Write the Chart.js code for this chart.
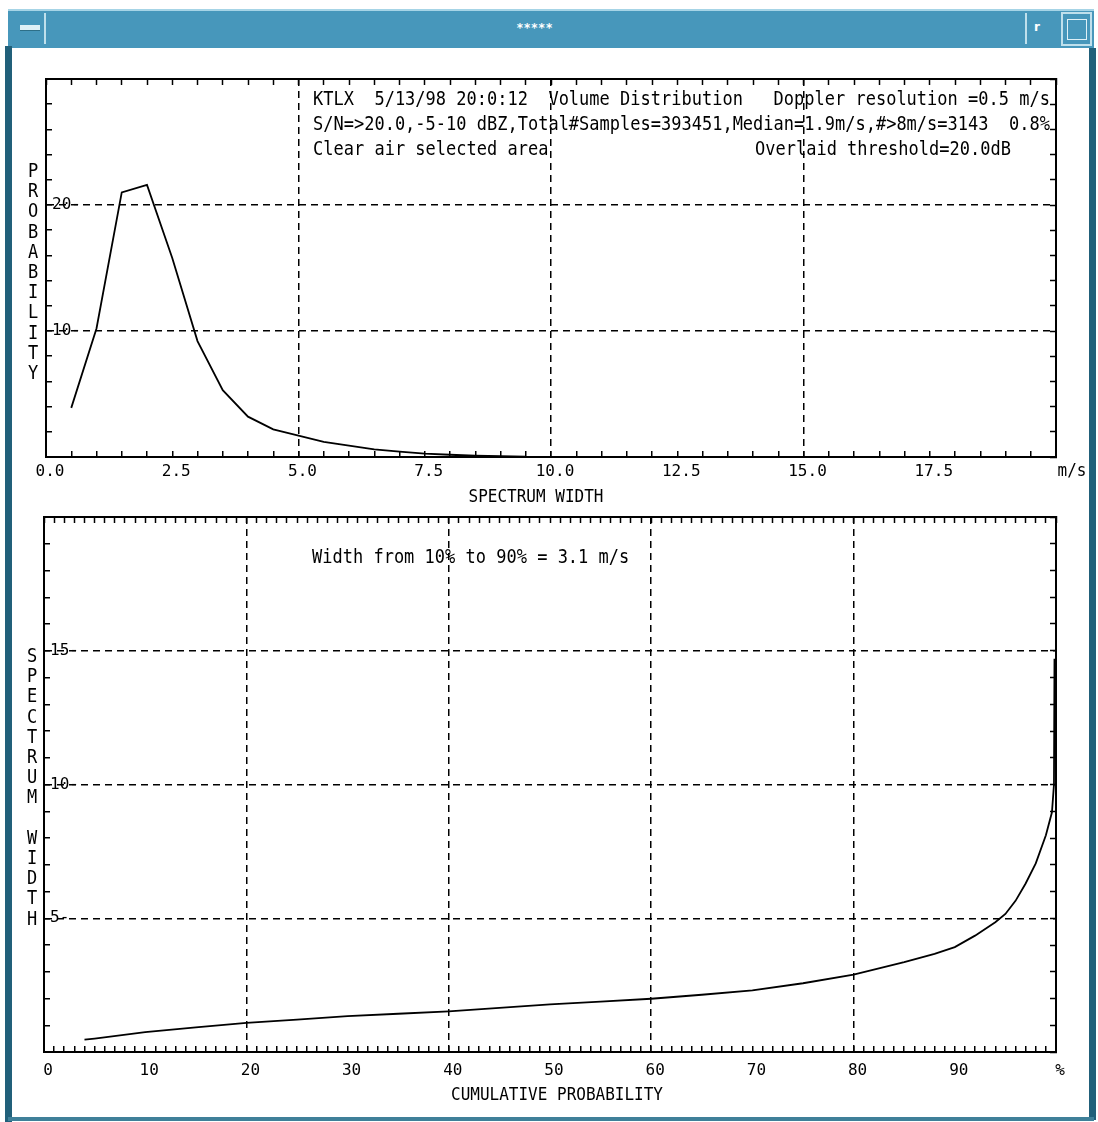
<!DOCTYPE html>
<html><head><meta charset="utf-8">
<script src="https://cdn.jsdelivr.net/npm/chart.js@4.4.0/dist/chart.umd.min.js"></script>
<style>
html,body{margin:0;padding:0;background:#fff;width:1098px;height:1122px;overflow:hidden;}
.abs{position:absolute;}
#tb{left:8px;top:9px;width:1086px;height:39px;background:#4797bb;border-top:2px solid #a6d4e6;box-sizing:border-box;}
#lbtn{left:12px;top:13px;width:34px;height:31px;border-right:2px solid #bfe0ec;box-sizing:border-box;}
#lglyph{left:20px;top:25px;width:20px;height:5px;background:#dff1f7;border-bottom:1px solid #2d6f88;}
#rsep{left:1025px;top:13px;width:2px;height:31px;background:#bfe0ec;}
#rglyph{left:1034px;top:20px;color:#fff;font:bold 12px "DejaVu Sans";}
#rbox{left:1061px;top:12px;width:31px;height:34px;border:2px solid #bfe0ec;box-sizing:border-box;}
#rinner{left:1067px;top:19px;width:20px;height:21px;border:1px solid #dff1f7;box-sizing:border-box;}
#ttl{left:0;top:21px;width:1070px;text-align:center;color:#fff;font:bold 12px "DejaVu Sans";letter-spacing:1px;}
#lstrip{left:5px;top:46px;width:7px;height:1076px;background:#21607a;}
#rstrip{left:1089px;top:48px;width:7px;height:1072px;background:#21607a;}
#bstrip{left:8px;top:1117px;width:1086px;height:4px;background:#3f8099;}
canvas{position:absolute;left:0;}
</style>
</head><body>
<div id="tb" class="abs"></div>
<div id="lbtn" class="abs"></div>
<div id="lglyph" class="abs"></div>
<div id="rsep" class="abs"></div>
<div id="rglyph" class="abs">r</div>
<div id="rbox" class="abs"></div>
<div id="rinner" class="abs"></div>
<div id="ttl" class="abs">*****</div>
<div id="lstrip" class="abs"></div>
<div id="rstrip" class="abs"></div>
<div id="bstrip" class="abs"></div>
<canvas id="c1" width="1098" height="510" style="top:0px"></canvas>
<canvas id="c2" width="1098" height="627" style="top:495px"></canvas>
<script>
// ---- Data: top chart (probability vs spectrum width, m/s) ----
const widthX = [0.5,1.0,1.5,2.0,2.5,3.0,3.5,4.0,4.5,5.0,5.5,6.0,6.5,7.0,7.5,8.0,8.5,9.0,9.5];
const probY  = [3.9,10.2,21.0,21.6,15.8,9.2,5.3,3.2,2.2,1.7,1.2,0.9,0.6,0.42,0.26,0.18,0.1,0.06,0.03];
// ---- Data: bottom chart (spectrum width vs cumulative probability, %) ----
const cumX = [4,5,10,15,20,25,30,35,40,45,50,55,60,65,70,75,80,85,88,90,92,94,95,96,97,98,99,99.6,99.8,99.85];
const cumY = [0.46,0.5,0.74,0.92,1.09,1.21,1.34,1.43,1.52,1.65,1.78,1.88,1.99,2.14,2.3,2.57,2.89,3.36,3.67,3.92,4.35,4.85,5.16,5.65,6.3,7.05,8.1,8.96,10.0,14.7];
// ---- Tick label settings ----
const topXLabelStep = 2.5, topXGridStep = 5, topYLabelStep = 10;
const botXLabelStep = 10, botXGridStep = 20, botYLabelStep = 5;
const topXUnit = 'm/s', botXUnit = '%';

const MONO = '"DejaVu Sans Mono", monospace';
const dash = [7,5];
const XAXIS_H = 40;
const isMult = (v,m) => Math.abs(v/m - Math.round(v/m)) < 1e-6;
const noFit = s => { if (s.isHorizontal()) s.height = 0; else s.width = 0; };
const xFit = s => { s.height = XAXIS_H; };

function frameAxis(pos, min, max, step){
  return {type:'linear', position:pos, min, max, afterFit:noFit,
    ticks:{display:false, stepSize:step, maxTicksLimit:1000, autoSkip:false},
    grid:{drawOnChartArea:false, tickLength:-6, tickColor:'#000', tickWidth:1.5, color:'rgba(0,0,0,0)'},
    border:{display:true, color:'#000', width:2}};
}
function mainX(min,max,step,labelStep,gridStep,lastLabel,pad){
  return {type:'linear', position:'bottom', min, max, afterFit:xFit,
    ticks:{stepSize:step, autoSkip:false, maxRotation:0, minRotation:0, maxTicksLimit:1000, padding:pad, labelOffset:4,
      color:'#000', font:{family:MONO, size:16},
      callback:(v)=> {
        if (Math.abs(v-max)<1e-6) return lastLabel;
        if (!isMult(v,labelStep)) return '';
        return !Number.isInteger(labelStep) ? v.toFixed(1) : String(Math.round(v));
      }},
    grid:{color:c => (c.tick && isMult(c.tick.value,gridStep) && c.tick.value>min+1e-6 && c.tick.value<max-1e-6) ? '#000' : 'rgba(0,0,0,0)',
      lineWidth:1.5, tickColor:'#000', tickLength:-6, tickWidth:1.5},
    border:{display:true, color:'#000', width:2, dash:dash}};
}
function mainY(min,max,step,labelStep){
  return {type:'linear', position:'left', min, max, afterFit:noFit,
    ticks:{stepSize:step, autoSkip:false, maxTicksLimit:1000, mirror:true, padding:6, color:'#000', font:{family:MONO, size:16},
      callback:(v)=> (isMult(v,labelStep) && v>min && v<max) ? (Math.round(v)+'-') : ''},
    grid:{color:c => (c.tick && isMult(c.tick.value,labelStep) && c.tick.value>min+1e-6 && c.tick.value<max-1e-6) ? '#000' : 'rgba(0,0,0,0)',
      lineWidth:1.5, tickColor:'#000', tickLength:-6, tickWidth:1.5},
    border:{display:true, color:'#000', width:2, dash:dash}};
}
function textPlugin(items, offY){
  return {id:'txt', afterDraw(chart){
    const ctx = chart.ctx;
    ctx.save();
    ctx.fillStyle = '#000';
    ctx.textBaseline = 'middle';
    for (const it of items){
      ctx.font = (it.size||17) + 'px ' + MONO;
      ctx.textAlign = it.align || 'left';
      if (it.vertical){
        it.t.split('').forEach((ch,i)=>{
          ctx.save(); ctx.translate(it.x, it.y - offY + i*it.step); ctx.scale(1,1.15);
          ctx.textAlign='center'; ctx.fillText(ch,0,0); ctx.restore();
        });
      } else {
        ctx.save(); ctx.translate(it.x, it.y - offY); ctx.scale(1,1.15);
        ctx.fillText(it.t,0,0); ctx.restore();
      }
    }
    ctx.restore();
  }};
}
const common = {responsive:false, animation:false, events:[],
  plugins:{legend:{display:false}, tooltip:{enabled:false}}};

new Chart(document.getElementById('c1'), {
  type:'line',
  data:{datasets:[{data: widthX.map((x,i)=>({x, y:probY[i]})), borderColor:'#000', borderWidth:1.8, pointRadius:0, tension:0, fill:false}]},
  options:Object.assign({}, common, {
    layout:{padding:{left:46, right:42, top:79, bottom:510-457-XAXIS_H}},
    scales:{
      x: mainX(0,20,0.5,topXLabelStep,topXGridStep,'',11),
      y: mainY(0,30,2,topYLabelStep),
      x2: frameAxis('top',0,20,0.5),
      y2: frameAxis('right',0,30,2)
    }}),
  plugins:[textPlugin([
    {t:'KTLX  5/13/98 20:0:12  Volume Distribution   Doppler resolution =0.5 m/s', x:313, y:100},
    {t:'S/N=>20.0,-5-10 dBZ,Total#Samples=393451,Median=1.9m/s,#>8m/s=3143  0.8%', x:313, y:125},
    {t:'Clear air selected area', x:313, y:150},
    {t:'Overlaid threshold=20.0dB', x:755, y:150},
    {t:topXUnit, x:1072, y:471, align:'center', size:16},
    {t:'SPECTRUM WIDTH', x:536, y:497, align:'center', size:16},
    {t:'PROBABILITY', x:33, y:172, vertical:true, step:20.2}
  ], 0)]
});

new Chart(document.getElementById('c2'), {
  type:'line',
  data:{datasets:[{data: cumX.map((x,i)=>({x, y:cumY[i]})), borderColor:'#000', borderWidth:1.8, pointRadius:0, tension:0, fill:false}]},
  options:Object.assign({}, common, {
    layout:{padding:{left:44, right:42, top:22, bottom:1122-1052-XAXIS_H}},
    scales:{
      x: mainX(0,100,1,botXLabelStep,botXGridStep,botXUnit,15),
      y: mainY(0,20,1,botYLabelStep),
      x2: frameAxis('top',0,100,1),
      y2: frameAxis('right',0,20,1)
    }}),
  plugins:[textPlugin([
    {t:'Width from 10% to 90% = 3.1 m/s', x:312, y:558},
    {t:'CUMULATIVE PROBABILITY', x:557, y:1095, align:'center', size:16},
    {t:'SPECTRUM WIDTH', x:32, y:657, vertical:true, step:20.2}
  ], 495)]
});
</script>
</body></html>
